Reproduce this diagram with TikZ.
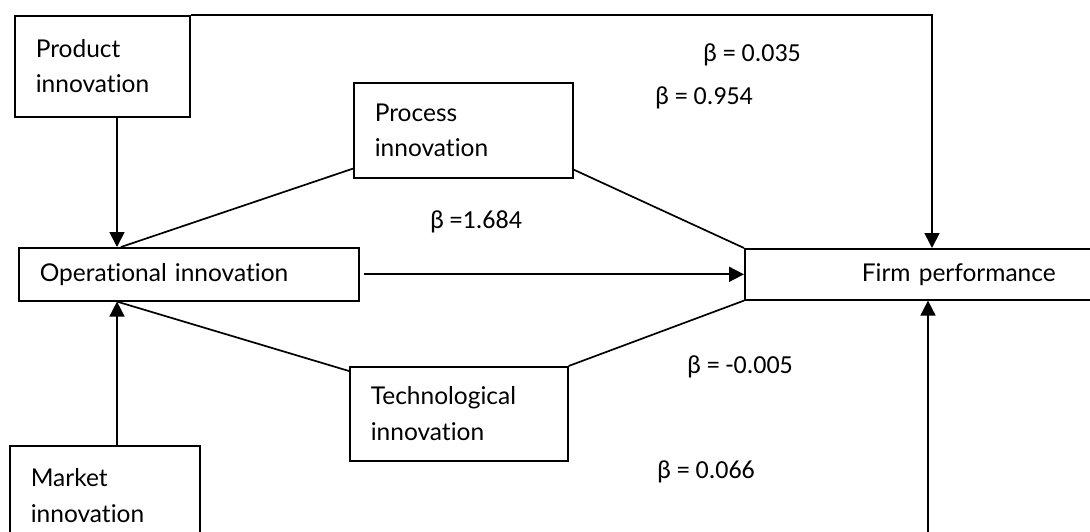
\documentclass[tikz,border=0pt]{standalone}
\usepackage{fontspec}
\setmainfont{Lato}[Ligatures=NoCommon]
\newfontfamily\lblfont{Carlito}
\usetikzlibrary{arrows.meta}
\begin{document}
\begin{tikzpicture}[x=1pt,y=-1pt,
  box/.style={draw, line width=1.6pt, align=left, inner xsep=21pt, inner ysep=0pt,
    font=\fontsize{24.5}{35.5}\selectfont, anchor=north west},
  lbl/.style={font=\lblfont\fontsize{26}{30}\selectfont, inner sep=0pt},
  ln/.style={line width=1.7pt},
  arr/.style={ln, -{Triangle[length=15pt,width=15pt]}}
]
\useasboundingbox (0,0) rectangle (1090,531);
% boxes
\node[box, minimum width=175pt, minimum height=101pt, text width=133pt] (prod) at (14,15) {Product\\innovation};
\node[box, minimum width=340pt, minimum height=53pt, text width=298pt] (op) at (18,247) {Operational innovation};
\node[box, minimum width=219pt, minimum height=95pt, text width=177pt] (proc) at (353,82) {Process\\innovation};
\node[box, minimum width=218pt, minimum height=94pt, text width=176pt] (tech) at (349,366) {Technological\\innovation};
\node[box, minimum width=190pt, minimum height=100pt, text width=148pt] (mkt) at (9,445) {Market\\innovation};
\node[box, minimum width=428pt, minimum height=51pt, text width=386pt, align=center] (firm) at (744,248) {Firm performance};
% guide coordinates
\coordinate (xa) at (117,0);
\coordinate (xb) at (121,0);
\coordinate (xc) at (932,0);
\coordinate (xd) at (928,0);
\coordinate (bot) at (928,545);
% connectors
\draw[arr] (prod.south -| xa) -- (op.north -| xa);
\draw[arr] (prod.north east) -- (prod.north east -| xc) -- (firm.north -| xc);
\draw[ln] ([yshift=10pt]proc.south west) -- (op.north -| xb);
\draw[ln] ([yshift=9pt]proc.south east) -- (firm.north west);
\draw[arr] ([xshift=4pt]op.east) -- (firm.west);
\draw[ln] ([yshift=-5pt]tech.north west) -- (op.south -| xa);
\draw[ln] (tech.north east) -- (firm.south west);
\draw[arr] (mkt.north -| xa) -- (op.south -| xa);
\draw[arr] (bot) -- (firm.south -| xd);
% labels
\node[lbl] (l1) at (752,55) {β = 0.035};
\node[lbl] (l2) at (704,98) {β = 0.954};
\node[lbl] (l3) at (476,222) {β =1.684};
\node[lbl] (l4) at (740,367) {β = -0.005};
\node[lbl] (l5) at (706,472) {β = 0.066};
\end{tikzpicture}
\end{document}
